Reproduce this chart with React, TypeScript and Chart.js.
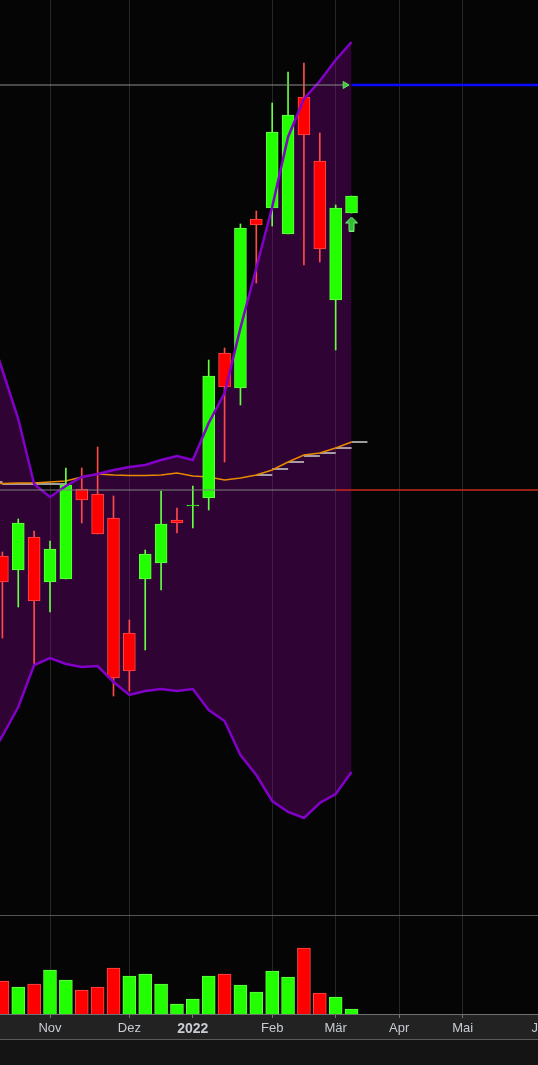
import React, { useEffect, useRef } from 'react';
import { Chart, registerables } from 'chart.js';

Chart.register(...registerables);

// Weekly candles, index 0 = week of 11 Oct 2021, index 22 = week of 14 Mar 2022
const OPEN = [45.8, 44.4, 47.7, 43.2, 43.5, 52.5, 52.0, 49.6, 38.1, 43.5, 45.1, 49.4, 50.8, 51.6, 66.1, 62.6, 79.5, 80.6, 78.0, 91.7, 85.3, 71.4, 80.1];
const HIGH = [46.2, 49.5, 48.3, 47.3, 54.6, 54.6, 56.7, 51.8, 39.4, 46.4, 52.3, 50.6, 52.8, 65.4, 66.6, 79.0, 80.3, 91.1, 94.2, 95.1, 88.1, 80.9, 81.8];
const LOW = [37.6, 40.7, 34.9, 40.2, 43.5, 49.1, 48.0, 31.8, 32.3, 36.4, 42.4, 48.1, 48.6, 50.4, 55.2, 60.9, 73.1, 78.8, 78.0, 74.9, 75.2, 66.4, 80.1];
const CLOSE = [43.2, 49.1, 41.3, 46.5, 52.9, 51.4, 48.0, 33.6, 34.3, 46.0, 49.0, 49.1, 50.9, 63.8, 62.7, 78.6, 78.9, 88.2, 89.9, 87.9, 76.5, 80.6, 81.8];
const VOLUME = [330, 270, 300, 440, 340, 240, 270, 460, 380, 400, 300, 100, 150, 380, 400, 290, 220, 430, 370, 660, 210, 170, 50];

// Indicator series start one week earlier (index -1)
const BAND_FIRST_WEEK = -1;
const BB_UPPER = [69.2, 64.4, 59.5, 53.0, 51.7, 52.8, 53.7, 54.0, 54.4, 54.7, 54.9, 55.4, 55.8, 55.4, 59.1, 62.1, 68.6, 74.6, 80.7, 87.7, 91.5, 93.3, 95.4, 97.2];
const BB_LOWER = [25.1, 27.8, 30.7, 34.9, 35.6, 35.0, 34.7, 34.8, 33.2, 31.9, 32.3, 32.5, 32.3, 32.5, 30.4, 29.3, 25.9, 23.9, 21.3, 20.2, 19.6, 21.1, 22.0, 24.2];
const MA = [53.0, 53.05, 53.1, 53.1, 53.2, 53.3, 53.7, 54.0, 53.9, 53.85, 53.85, 53.9, 54.1, 53.8, 53.7, 53.4, 53.6, 53.9, 54.4, 55.2, 55.9, 56.1, 56.6, 57.2];
const MA_STEPS: (number | null)[] = [53.2, 53.0, 53.0, 53.0, 53.0, null, null, null, null, null, null, null, null, null, null, null, null, 53.9, 54.5, 55.2, 55.8, 56.1, 56.6, 57.2];

const RESISTANCE_LEVEL = 92.9;
const SUPPORT_LEVEL = 52.4;
const MARKER_WEEK = 21.6;
const SUPPORT_SPLIT_WEEK = 21;
const LAST_WEEK = 22;
const SIGNAL_VALUE = 79.0;

const MONTH_TICKS = [3, 8, 12, 17, 21, 25, 29, 34];
const MONTH_LABELS = ['Nov', 'Dez', '2022', 'Feb', 'Mär', 'Apr', 'Mai', 'Jun'];
const YEAR_TICK = 12;

const X_MIN = -0.151;
const X_MAX = 33.75;
const PRICE_MIN = 0;
const PRICE_MAX = 101.4;
const VOL_MAX = 10140;
const VOL_PANE_TOP = 990;

const GREEN = '#22ff00';
const GREEN_EDGE = '#66ff44';
const RED = '#ff0000';
const RED_EDGE = '#ff4a4a';

export default function App() {
  const ref = useRef<HTMLCanvasElement>(null);

  useEffect(() => {
    const canvas = ref.current;
    if (!canvas) return;

    const arrow = document.createElement('canvas');
    arrow.width = 13;
    arrow.height = 15;
    const a = arrow.getContext('2d')!;
    a.fillStyle = '#2fbf2f';
    a.strokeStyle = '#80e880';
    a.lineWidth = 1;
    a.beginPath();
    a.moveTo(6.5, 0.5);
    a.lineTo(12.5, 6.5);
    a.lineTo(9, 6.5);
    a.lineTo(9, 14.5);
    a.lineTo(4, 14.5);
    a.lineTo(4, 6.5);
    a.lineTo(0.5, 6.5);
    a.closePath();
    a.fill();
    a.stroke();

    const up = OPEN.map((o, i) => CLOSE[i] >= o);
    const volUp = CLOSE.map((c, i) => (i === 0 ? c >= OPEN[0] : c >= CLOSE[i - 1]));

    const bandPts = (arr: (number | null)[], shift = 0) =>
      arr.map((v, k) => ({ x: k + BAND_FIRST_WEEK + shift, y: v }));

    const bg = {
      id: 'bgPanes',
      beforeDraw(chart: any) {
        const { ctx, chartArea, width, height } = chart;
        ctx.save();
        ctx.fillStyle = '#050505';
        ctx.fillRect(0, 0, width, height);
        ctx.fillStyle = '#222222';
        ctx.fillRect(0, chartArea.bottom, width, 26);
        ctx.fillStyle = '#5a5a5a';
        ctx.fillRect(0, chartArea.bottom + 25, width, 1);
        ctx.fillStyle = '#141414';
        ctx.fillRect(0, chartArea.bottom + 26, width, height - chartArea.bottom - 26);
        ctx.restore();
      },
      beforeDatasetsDraw(chart: any) {
        const { ctx, chartArea } = chart;
        const y = Math.round(chart.scales.yv.getPixelForValue(VOL_PANE_TOP)) + 0.5;
        ctx.save();
        ctx.strokeStyle = '#555555';
        ctx.lineWidth = 1;
        ctx.beginPath();
        ctx.moveTo(chartArea.left, y);
        ctx.lineTo(chartArea.right, y);
        ctx.stroke();
        ctx.restore();
      },
    };

    const hLine = (x0: number, x1: number, y: number, color: string, w: number, order: number) => ({
      type: 'line' as const,
      data: [{ x: x0, y }, { x: x1, y }],
      borderColor: color,
      borderWidth: w,
      pointRadius: 0,
      yAxisID: 'y',
      order,
    });

    const chart = new Chart(canvas, {
      type: 'line',
      data: {
        datasets: [
          // Bollinger bands (upper fills to lower)
          {
            type: 'line',
            data: bandPts(BB_UPPER),
            borderColor: '#8200c8',
            borderWidth: 2.5,
            pointRadius: 0,
            tension: 0,
            fill: '+1',
            backgroundColor: 'rgba(147,0,160,0.3)',
            yAxisID: 'y',
            order: 3,
          },
          {
            type: 'line',
            data: bandPts(BB_LOWER),
            borderColor: '#8200c8',
            borderWidth: 2.5,
            pointRadius: 0,
            tension: 0,
            fill: false,
            yAxisID: 'y',
            order: 3,
          },
          // volume
          {
            type: 'bar',
            data: VOLUME.map((v, i) => ({ x: i, y: v })),
            backgroundColor: volUp.map((u) => (u ? GREEN : RED)),
            borderColor: volUp.map((u) => (u ? GREEN_EDGE : RED_EDGE)),
            borderWidth: 1,
            borderSkipped: 'start',
            barThickness: 13,
            grouped: false,
            yAxisID: 'yv',
            order: 10,
          },
          // stepped MA dashes
          {
            type: 'scatter',
            data: bandPts(MA_STEPS, 0.5),
            pointStyle: 'line',
            pointRadius: 8,
            pointBorderWidth: 1.5,
            pointBorderColor: '#cfcfcf',
            pointBackgroundColor: '#cfcfcf',
            showLine: false,
            yAxisID: 'y',
            order: 9,
          },
          // MA
          {
            type: 'line',
            data: bandPts(MA),
            borderColor: '#e88a00',
            borderWidth: 1.5,
            pointRadius: 0,
            tension: 0,
            fill: false,
            yAxisID: 'y',
            order: 8,
          },
          // wicks
          {
            type: 'bar',
            data: OPEN.map((_, i) => ({ x: i, y: [LOW[i], HIGH[i]] })),
            backgroundColor: up.map((u) => (u ? GREEN_EDGE : RED_EDGE)),
            borderWidth: 0,
            barThickness: 1,
            grouped: false,
            yAxisID: 'y',
            order: 7,
          },
          // bodies
          {
            type: 'bar',
            data: OPEN.map((o, i) => ({ x: i, y: [o, CLOSE[i]] })),
            backgroundColor: up.map((u) => (u ? GREEN : RED)),
            borderColor: up.map((u) => (u ? GREEN_EDGE : RED_EDGE)),
            borderWidth: 1,
            borderSkipped: false,
            barThickness: 12,
            grouped: false,
            yAxisID: 'y',
            order: 6,
          },
          hLine(X_MIN, MARKER_WEEK, RESISTANCE_LEVEL, '#8c8c8c', 1, 2),
          hLine(LAST_WEEK, X_MAX, RESISTANCE_LEVEL, '#0a0aff', 2.5, 2),
          hLine(X_MIN, SUPPORT_SPLIT_WEEK, SUPPORT_LEVEL, '#808080', 1, 2),
          hLine(SUPPORT_SPLIT_WEEK, X_MAX, SUPPORT_LEVEL, '#c82a1e', 1.5, 2),
          {
            type: 'scatter',
            data: [{ x: MARKER_WEEK, y: RESISTANCE_LEVEL }],
            pointStyle: 'triangle',
            rotation: 90,
            pointRadius: 4,
            pointBackgroundColor: '#3fc43f',
            pointBorderColor: '#6fe06f',
            pointBorderWidth: 1,
            yAxisID: 'y',
            order: 1,
          },
          {
            type: 'scatter',
            data: [{ x: LAST_WEEK, y: SIGNAL_VALUE }],
            pointStyle: arrow,
            pointRadius: 7,
            yAxisID: 'y',
            order: 1,
          },
        ] as any,
      },
      options: {
        responsive: false,
        animation: false,
        events: [],
        layout: { padding: 0, autoPadding: false },
        plugins: {
          legend: { display: false },
          tooltip: { enabled: false },
          filler: { drawTime: 'beforeDatasetsDraw', propagate: false } as any,
        },
        scales: {
          x: {
            type: 'linear',
            min: X_MIN,
            max: X_MAX,
            offset: false,
            position: 'bottom',
            afterBuildTicks: (scale: any) => {
              scale.ticks = MONTH_TICKS.map((v) => ({ value: v }));
            },
            afterFit: (scale: any) => {
              scale.height = 51;
              scale.paddingLeft = 0;
              scale.paddingRight = 0;
            },
            grid: {
              offset: false,
              drawTicks: true,
              tickLength: 4,
              tickColor: '#777777',
              color: (ctx: any) => (ctx.tick && ctx.tick.value === YEAR_TICK ? 'rgba(0,0,0,0)' : '#262626'),
              lineWidth: 1,
            },
            border: { display: true, color: '#707070', width: 1 },
            ticks: {
              autoSkip: false,
              maxRotation: 0,
              minRotation: 0,
              padding: 3,
              color: '#c8ccd2',
              font: (ctx: any) =>
                ctx.tick && ctx.tick.value === YEAR_TICK
                  ? { family: 'Liberation Sans, Arial, sans-serif', size: 14, weight: 'bold' }
                  : { family: 'Liberation Sans, Arial, sans-serif', size: 13, weight: 'normal' },
              callback: (value: any) => {
                const k = MONTH_TICKS.indexOf(Number(value));
                return k >= 0 ? MONTH_LABELS[k] : '';
              },
            },
          },
          y: {
            type: 'linear',
            display: false,
            min: PRICE_MIN,
            max: PRICE_MAX,
          },
          yv: {
            type: 'linear',
            display: false,
            min: 0,
            max: VOL_MAX,
          },
        },
      } as any,
      plugins: [bg],
    });

    return () => chart.destroy();
  }, []);

  return (
    <div style={{ position: 'absolute', left: 0, top: 0, width: 538, height: 1065, background: '#050505' }}>
      <canvas ref={ref} width={538} height={1065} style={{ display: 'block' }} />
    </div>
  );
}
